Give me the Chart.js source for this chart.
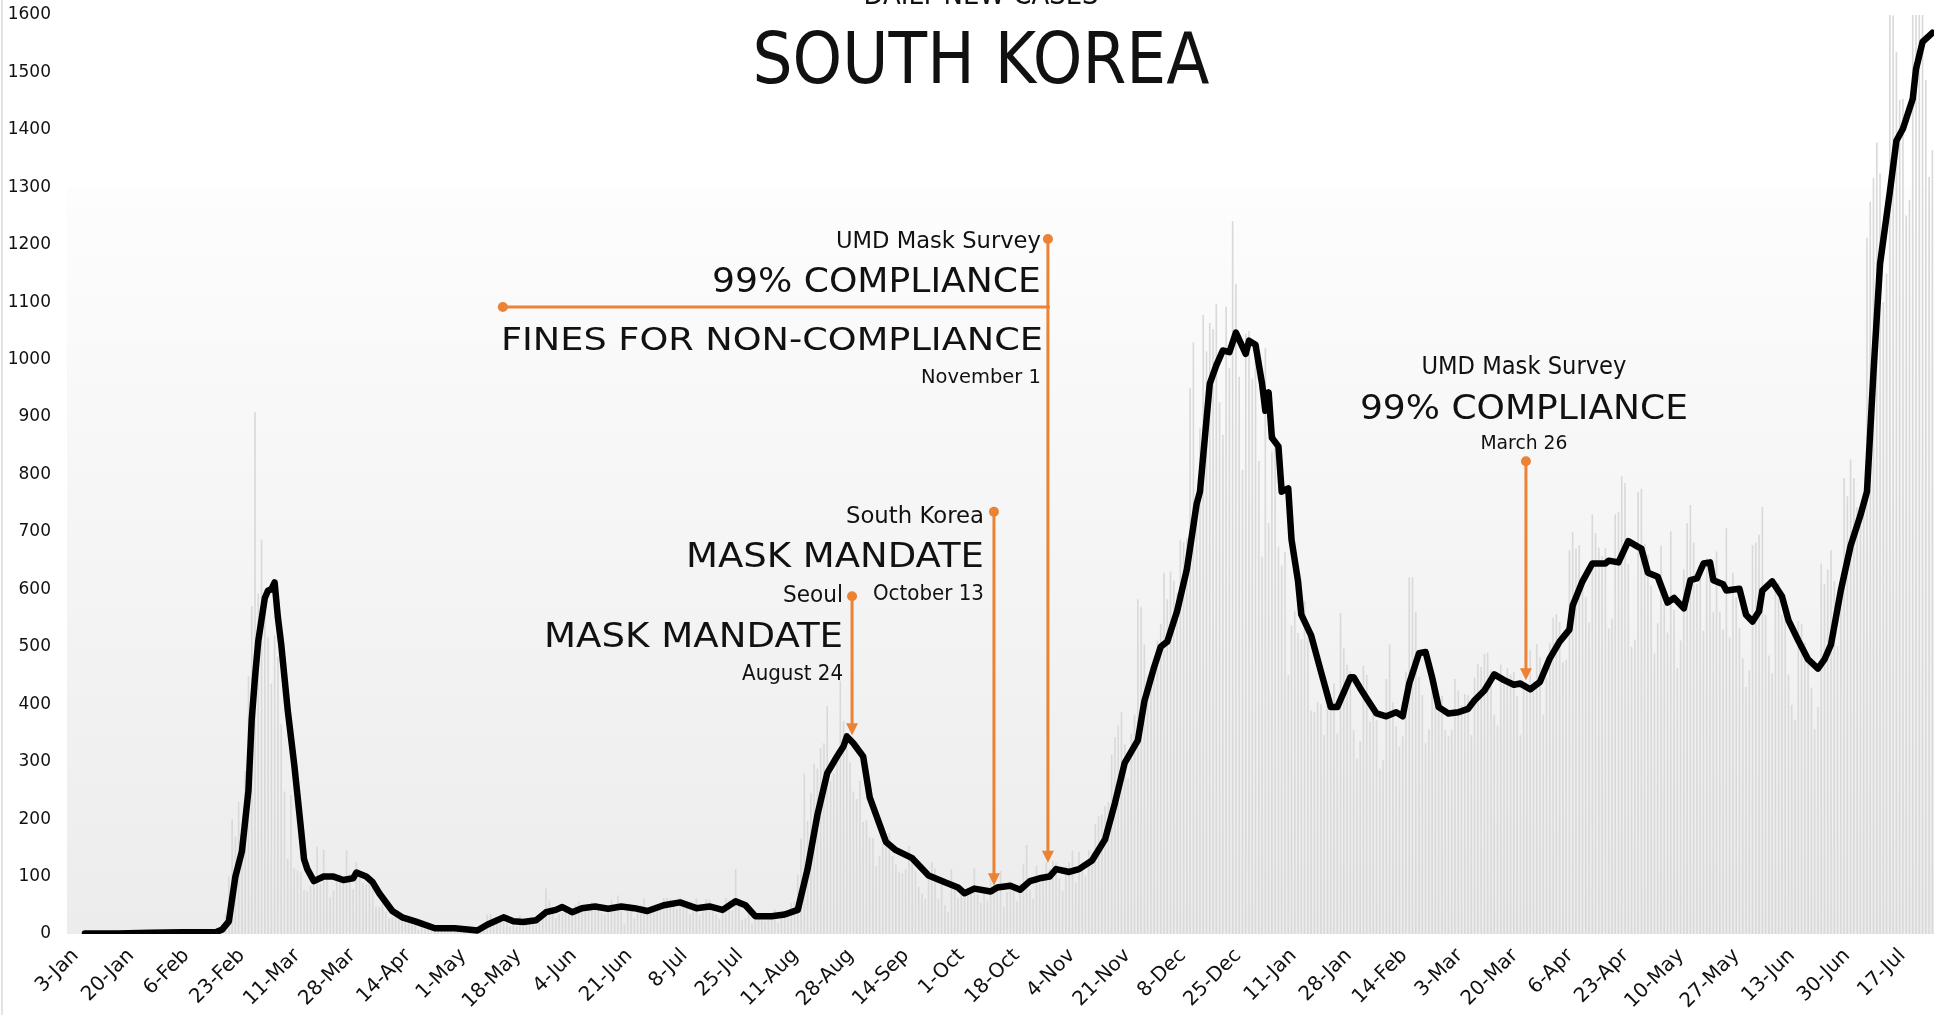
<!DOCTYPE html>
<html>
<head>
<meta charset="utf-8">
<script src="https://cdn.jsdelivr.net/npm/chart.js@4.4.1/dist/chart.umd.min.js"></script>
<style>
  html, body { margin: 0; background: #fff; }
  #wrap { width: 1934px; height: 1015px; position: relative; }
</style>
</head>
<body>
<div id="wrap"><canvas id="chart"></canvas></div>
<script>
// x axis labels, one every 17 days starting 3-Jan-2020
const tickLabels = ['3-Jan','20-Jan','6-Feb','23-Feb','11-Mar','28-Mar','14-Apr','1-May','18-May','4-Jun','21-Jun','8-Jul',
  '25-Jul','11-Aug','28-Aug','14-Sep','1-Oct','18-Oct','4-Nov','21-Nov','8-Dec','25-Dec','11-Jan','28-Jan','14-Feb',
  '3-Mar','20-Mar','6-Apr','23-Apr','10-May','27-May','13-Jun','30-Jun','17-Jul'];

// daily new cases, one value per day from 3-Jan-2020 (grey bars)
const dailyCases = [
  0,0,0,0,0,0,0,0,0,0,0,0,0,0,0,0,0,1,0,0,0,1,0,1,1,0,0,2,4,                                   // Jan 2020
  1,3,0,1,5,1,0,0,2,1,0,0,0,0,0,1,1,1,15,34,100,200,170,230,144,284,449,571,909,               // Feb
  593,687,600,516,436,520,483,365,248,131,242,114,110,107,76,74,84,93,152,87,147,98,64,76,100,104,91,146,105,78,125, // Mar
  101,89,86,94,81,47,47,53,39,27,30,32,25,27,27,22,22,18,8,13,9,11,8,6,10,10,10,14,9,4,        // Apr
  9,6,13,8,3,2,4,12,18,34,35,27,26,29,27,19,13,15,13,32,12,20,23,25,16,19,40,79,58,39,27,      // May
  35,38,49,39,39,51,57,38,50,45,56,48,49,37,34,43,59,49,67,48,17,46,51,28,39,51,62,42,42,43,   // Jun
  51,54,63,63,61,48,44,63,50,45,35,44,62,33,39,61,60,39,34,26,45,63,59,41,113,58,25,28,48,18,36, // Jul
  31,30,23,34,33,43,20,36,28,34,54,56,103,166,279,197,246,297,288,324,332,397,266,280,320,441,371,323,299,248,235, // Aug
  267,195,198,168,167,119,136,156,155,176,136,121,109,106,113,153,126,110,82,70,61,110,125,114,61,95,50,38,113,77, // Sep
  63,75,64,73,75,114,69,54,72,58,97,102,84,110,47,73,91,76,58,89,121,155,77,61,119,88,103,125,114,127,124, // Oct
  97,75,118,125,145,89,143,126,100,146,143,191,205,208,223,230,313,343,363,386,330,271,349,382,583,569,504,450,438,451, // Nov
  511,540,629,583,631,615,594,686,682,689,950,1030,718,880,1078,1014,1064,1053,1097,926,869,1092,985,1241,1132,970,808,1045,1050,967,1029, // Dec
  824,657,1020,715,840,869,674,641,665,451,537,562,524,513,580,520,389,386,404,400,346,431,392,437,349,559,497,469,458,355,305, // Jan 2021
  336,467,451,370,393,372,288,303,444,504,403,362,326,344,457,621,621,561,448,416,332,356,440,396,406,415,355,344, // Feb
  355,444,424,398,418,416,346,446,470,465,488,490,459,382,363,469,445,463,452,456,415,346,428,430,494,441,505,482,382,447,506, // Mar
  551,557,543,473,478,668,700,671,677,614,587,542,731,698,673,658,672,532,549,731,735,797,785,644,500,512,769,775,679,661, // Apr
  606,488,541,676,574,525,701,564,463,511,635,715,747,681,610,619,528,654,646,561,666,561,530,707,516,629,587,533,480,430,459, // May
  677,681,695,744,556,485,454,602,611,556,565,452,399,373,545,540,507,482,429,357,395,645,610,634,668,614,501,595,794,762, // Jun
  826,794,743,711,746,1212,1275,1316,1378,1324,1100,1150,1615,1599,1536,1452,1454,1251,1278,1784,1842,1630,1629,1487,1318,1365 // Jul
];

// 7-day average (black line): day index and value
const avgDays = [
  5,15,25,35,45,47,49,51,53,55,
  56,57,58,60,61,62,63,64,65,67,
  69,71,72,73,75,78,81,84,87,88,
  91,93,95,99,102,106,112,118,122,125,
  128,133,136,139,143,146,149,151,154,157,
  161,165,169,173,177,182,187,192,196,200,
  204,207,210,215,219,223,226,229,232,235,
  237,238,240,243,245,250,253,258,263,268,
  272,274,277,282,284,288,291,294,297,300,
  302,306,309,313,317,320,323,327,329,332,
  334,336,339,342,345,346,349,351,353,355,
  357,360,361,363,365,366,367,368,370,371,
  373,374,376,377,380,383,386,388,392,393,
  395,397,400,403,406,408,410,413,415,417,
  419,422,425,428,430,433,436,439,442,444,
  447,450,453,456,459,460,463,466,470,471,
  474,477,480,481,483,486,489,491,494,496,
  498,500,502,503,506,507,511,513,515,517,
  518,521,524,526,529,532,535,537,539,542,
  545,548,550,552,554,557,559,561,564,565,
  567,570
];
const avgValues = [
  1,1,2,3,3,8,22,100,144,250,
  374,447,510,585,598,600,612,551,505,390,
  295,186,130,113,92,100,100,94,97,107,
  100,90,71,40,29,22,10,10,8,6,
  16,29,22,21,24,38,42,47,38,45,
  48,44,48,45,40,50,55,45,48,42,
  57,50,31,31,34,42,113,207,280,309,
  327,344,332,309,238,160,146,132,102,90,
  81,71,79,74,81,84,77,92,97,100,
  113,108,113,128,165,228,298,337,405,465,
  500,509,562,635,749,770,958,990,1016,1013,
  1047,1010,1033,1026,958,911,943,864,849,770,
  776,687,614,556,520,457,395,395,447,447,
  428,410,384,379,386,379,436,489,491,447,
  395,384,386,392,407,424,452,442,434,436,
  426,439,480,509,530,572,614,645,645,650,
  647,684,674,671,629,622,577,585,567,616,
  619,645,647,616,609,598,601,556,544,562,
  598,614,588,546,511,478,462,478,504,598,
  676,729,770,979,1167,1292,1381,1402,1454,1506,
  1553,1569
];

const orange = '#EB8236';

// text squeezed/stretched to a given width
function drawText(ctx, s, x, y, size, width, align) {
  ctx.save();
  ctx.font = size + 'px "DejaVu Sans"';
  const w = ctx.measureText(s).width;
  ctx.translate(x, y);
  ctx.scale(width / w, 1);
  ctx.textAlign = align;
  ctx.textBaseline = 'alphabetic';
  ctx.fillStyle = '#111';
  ctx.fillText(s, 0, 0);
  ctx.restore();
}

function marker(ctx, x, y0, y1) {
  ctx.save();
  ctx.strokeStyle = orange;
  ctx.fillStyle = orange;
  ctx.lineWidth = 3;
  ctx.beginPath();
  ctx.moveTo(x, y0);
  ctx.lineTo(x, y1 - 8);
  ctx.stroke();
  ctx.beginPath();
  ctx.arc(x, y0, 5, 0, Math.PI * 2);
  ctx.fill();
  ctx.beginPath();
  ctx.moveTo(x - 6, y1 - 12);
  ctx.lineTo(x + 6, y1 - 12);
  ctx.lineTo(x, y1);
  ctx.closePath();
  ctx.fill();
  ctx.restore();
}

// callouts: arrow at a day, from one value down to another, text relative to the dot
const notes = [
  { day: 239.6, from: 588, to: 346, align: 'right', dx: -9, lines: [
    ['Seoul', 6, 23, 60], ['MASK MANDATE', 51, 34, 299], ['August 24', 84, 21, 101]] },
  { day: 283.0, from: 735, to: 85, align: 'right', dx: -10, lines: [
    ['South Korea', 11, 23, 138], ['MASK MANDATE', 55, 34, 298], ['October 13', 88, 21, 111]] },
  { day: 299.5, from: 1210, to: 124, align: 'right', dx: -7, hline: 132.8, hdy: 68, lines: [
    ['UMD Mask Survey', 9, 23, 205], ['99% COMPLIANCE', 53, 33, 329],
    ['FINES FOR NON-COMPLIANCE', 111, 32, 542], ['November 1', 144, 20, 120]] },
  { day: 445.7, from: 823, to: 442, align: 'center', dx: -2, lines: [
    ['UMD Mask Survey', -87, 24, 205], ['99% COMPLIANCE', -42, 33, 328], ['March 26', -12, 19, 87]] }
];

const overlay = {
  id: 'overlay',
  beforeDatasetsDraw(chart) {
    const { ctx, chartArea: a, scales: { y } } = chart;
    const top = y.getPixelForValue(1300);
    const g = ctx.createLinearGradient(0, top, 0, a.bottom);
    g.addColorStop(0, '#fdfdfd');
    g.addColorStop(1, '#ececec');
    ctx.save();
    ctx.fillStyle = g;
    ctx.fillRect(a.left, top, a.right - a.left, a.bottom - top);
    ctx.strokeStyle = '#e4e4e4';
    ctx.lineWidth = 2;
    ctx.beginPath();
    ctx.moveTo(2, 0);
    ctx.lineTo(2, chart.height);
    ctx.stroke();
    ctx.restore();
  },
  afterDraw(chart) {
    const { ctx, scales: { x, y } } = chart;
    drawText(ctx, 'DAILY NEW CASES', 981, 4, 28, 235, 'center');
    drawText(ctx, 'SOUTH KOREA', 981, 83, 71, 457, 'center');
    notes.forEach(n => {
      const px = x.getPixelForValue(n.day);
      const y0 = y.getPixelForValue(n.from);
      const y1 = y.getPixelForValue(n.to);
      if (n.hline !== undefined) {
        const hx = x.getPixelForValue(n.hline);
        ctx.save();
        ctx.strokeStyle = orange;
        ctx.fillStyle = orange;
        ctx.lineWidth = 3;
        ctx.beginPath();
        ctx.moveTo(hx, y0 + n.hdy);
        ctx.lineTo(px + 2, y0 + n.hdy);
        ctx.stroke();
        ctx.beginPath();
        ctx.arc(hx, y0 + n.hdy, 5, 0, Math.PI * 2);
        ctx.fill();
        ctx.restore();
      }
      marker(ctx, px, y0, y1);
      n.lines.forEach(([s, dy, size, w]) => {
        const tx = n.align === 'right' && s.startsWith('FINES') ? px - 5 : px + n.dx;
        drawText(ctx, s, tx, y0 + dy, size, w, n.align);
      });
    });
  }
};

Chart.defaults.font.family = '"DejaVu Sans"';

new Chart(document.getElementById('chart'), {
  type: 'bar',
  data: {
    datasets: [
      {
        type: 'line',
        label: '7-day average',
        data: avgDays.map((d, i) => ({ x: d, y: avgValues[i] })),
        borderColor: '#000',
        borderWidth: 6.5,
        pointRadius: 0,
        tension: 0,
        borderJoinStyle: 'round',
        borderCapStyle: 'round',
        order: 0
      },
      {
        type: 'bar',
        label: 'Daily new cases',
        data: dailyCases.map((v, i) => ({ x: i, y: v })),
        backgroundColor: '#d9d9d9',
        barPercentage: 0.5,
        categoryPercentage: 1,
        order: 1
      }
    ]
  },
  options: {
    responsive: true,
    maintainAspectRatio: false,
    animation: false,
    layout: { padding: { top: 15, right: 0, bottom: 0, left: 0 } },
    plugins: { legend: { display: false }, tooltip: { enabled: false } },
    scales: {
      x: {
        type: 'linear',
        offset: false,
        min: -0.5,
        max: dailyCases.length - 0.5,
        grid: { display: false, drawTicks: false },
        border: { display: false },
        // the source spaces its date labels a touch tighter than the data
        afterBuildTicks: s => { s.ticks = tickLabels.map((_, i) => ({ value: i * 16.93 })); },
        afterFit: s => { s.height = 81; s.paddingLeft = 0; s.paddingRight = 0; },
        ticks: {
          autoSkip: false,
          maxRotation: 45,
          minRotation: 45,
          padding: 10,
          labelOffset: 7,
          color: '#111',
          font: { size: 20 },
          callback: (v, i) => tickLabels[i]
        }
      },
      y: {
        min: 0,
        max: 1600,
        grid: { display: false, drawTicks: false },
        border: { display: false },
        afterFit: s => { s.width = 67; s.paddingTop = 0; s.paddingBottom = 0; },
        ticks: {
          stepSize: 100,
          padding: 16,
          color: '#111',
          font: { size: 17 },
          callback: v => String(v)
        }
      }
    }
  },
  plugins: [overlay]
});
</script>
</body>
</html>
